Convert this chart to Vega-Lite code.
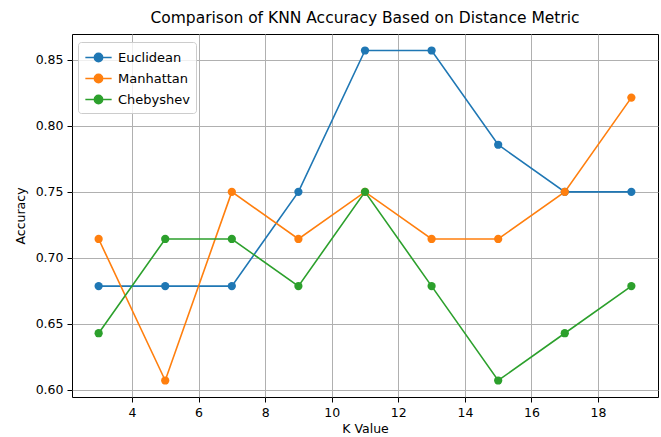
{
  "$schema": "https://vega.github.io/schema/vega-lite/v6.json",
  "width": 586,
  "height": 363,
  "autosize": "none",
  "padding": {"left": 72, "top": 34, "right": 3, "bottom": 40},
  "background": "white",
  "title": {"text": "Comparison of KNN Accuracy Based on Distance Metric", "font": "DejaVu Sans", "fontSize": 15.5, "fontWeight": "normal", "color": "black", "anchor": "middle", "offset": 8},
  "config": {
    "view": {"stroke": "black", "strokeWidth": 1},
    "axis": {"labelFont": "DejaVu Sans", "titleFont": "DejaVu Sans", "labelFontSize": 12.5, "titleFontSize": 12.5, "titleFontWeight": "normal", "labelColor": "black", "titleColor": "black", "domain": false, "tickColor": "black", "tickSize": 5, "gridColor": "#b0b0b0", "gridWidth": 1, "labelPadding": 4}
  },
  "data": {"values": [
    {"k": 3, "metric": "Euclidean", "acc": 0.6786},
    {"k": 5, "metric": "Euclidean", "acc": 0.6786},
    {"k": 7, "metric": "Euclidean", "acc": 0.6786},
    {"k": 9, "metric": "Euclidean", "acc": 0.75},
    {"k": 11, "metric": "Euclidean", "acc": 0.8571},
    {"k": 13, "metric": "Euclidean", "acc": 0.8571},
    {"k": 15, "metric": "Euclidean", "acc": 0.7857},
    {"k": 17, "metric": "Euclidean", "acc": 0.75},
    {"k": 19, "metric": "Euclidean", "acc": 0.75},
    {"k": 3, "metric": "Manhattan", "acc": 0.7143},
    {"k": 5, "metric": "Manhattan", "acc": 0.6071},
    {"k": 7, "metric": "Manhattan", "acc": 0.75},
    {"k": 9, "metric": "Manhattan", "acc": 0.7143},
    {"k": 11, "metric": "Manhattan", "acc": 0.75},
    {"k": 13, "metric": "Manhattan", "acc": 0.7143},
    {"k": 15, "metric": "Manhattan", "acc": 0.7143},
    {"k": 17, "metric": "Manhattan", "acc": 0.75},
    {"k": 19, "metric": "Manhattan", "acc": 0.8214},
    {"k": 3, "metric": "Chebyshev", "acc": 0.6429},
    {"k": 5, "metric": "Chebyshev", "acc": 0.7143},
    {"k": 7, "metric": "Chebyshev", "acc": 0.7143},
    {"k": 9, "metric": "Chebyshev", "acc": 0.6786},
    {"k": 11, "metric": "Chebyshev", "acc": 0.75},
    {"k": 13, "metric": "Chebyshev", "acc": 0.6786},
    {"k": 15, "metric": "Chebyshev", "acc": 0.6071},
    {"k": 17, "metric": "Chebyshev", "acc": 0.6429},
    {"k": 19, "metric": "Chebyshev", "acc": 0.6786}
  ]},
  "encoding": {
    "x": {"field": "k", "type": "quantitative", "title": "K Value", "scale": {"domain": [2.2, 19.8], "nice": false, "zero": false}, "axis": {"values": [4, 6, 8, 10, 12, 14, 16, 18], "titlePadding": 4}},
    "y": {"field": "acc", "type": "quantitative", "title": "Accuracy", "scale": {"domain": [0.5946, 0.8696], "nice": false, "zero": false}, "axis": {"values": [0.6, 0.65, 0.7, 0.75, 0.8, 0.85], "format": ".2f", "titlePadding": 8}},
    "color": {"field": "metric", "type": "nominal", "sort": ["Euclidean", "Manhattan", "Chebyshev"], "scale": {"domain": ["Euclidean", "Manhattan", "Chebyshev"], "range": ["#1f77b4", "#ff7f0e", "#2ca02c"]},
      "legend": {"title": null, "orient": "none", "legendX": 6, "legendY": 8, "labelFont": "DejaVu Sans", "labelFontSize": 13, "labelColor": "black", "symbolType": "M -1.6 0 L 1.6 0 M 0.5 0 A 0.5 0.5 0 1 1 -0.5 0 A 0.5 0.5 0 1 1 0.5 0", "symbolSize": 270, "symbolStrokeWidth": 1.6, "symbolFillColor": null, "strokeColor": "#cccccc", "fillColor": "rgba(255,255,255,0.8)", "cornerRadius": 3, "padding": 6, "rowPadding": 4, "labelOffset": 10, "symbolOffset": 5}}
  },
  "layer": [
    {"mark": {"type": "line", "strokeWidth": 1.6}},
    {"mark": {"type": "circle", "size": 68, "opacity": 1}}
  ]
}
